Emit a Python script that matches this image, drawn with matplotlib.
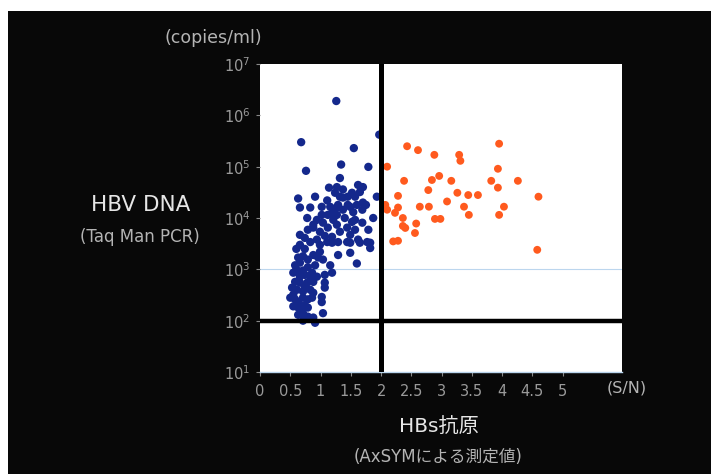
import matplotlib
matplotlib.use("Agg")
import matplotlib.pyplot as plt
from matplotlib.patches import Rectangle
from matplotlib.ticker import LogLocator, LogFormatterMathtext, NullLocator

# ---- data ----
blue_x = [1.26, 0.68, 1.55, 1.97, 0.76, 1.34, 1.79, 1.32, 1.14, 1.27,
          1.24, 1.62, 1.70, 1.52, 1.45, 1.37, 1.32, 1.65, 1.57, 0.63,
          0.91, 1.93, 0.66, 0.83, 1.02, 1.16, 1.29, 1.27, 1.19, 1.27,
          1.37, 1.49, 1.60, 1.70, 1.69, 1.54, 0.78, 0.94, 0.88, 1.04,
          1.12, 1.21, 1.27, 1.32, 1.44, 1.52, 1.57, 1.69, 1.57, 1.49,
          1.62, 1.79, 1.87, 0.66, 0.74, 0.83, 0.94, 0.99, 1.11, 1.19,
          1.29, 1.44, 1.77, 1.82, 0.66, 1.19, 1.49, 1.65, 0.71, 0.88,
          0.99, 1.29, 1.49, 1.60, 0.58, 0.66, 0.79, 0.91, 1.04, 1.16,
          0.55, 0.63, 0.74, 0.86, 0.94, 1.07, 1.19, 0.58, 0.66, 0.78,
          0.88, 1.07, 1.07, 0.61, 0.71, 0.83, 0.88, 0.50, 0.58, 0.63,
          0.71, 0.86, 1.02, 1.02, 0.55, 0.63, 0.69, 0.74, 0.79, 0.63,
          0.71, 0.79, 0.88, 1.04, 0.91, 1.82, 0.60, 0.74, 0.63, 0.79,
          0.60, 0.71, 0.83, 0.66, 0.53, 0.74, 0.55, 0.79, 0.88, 0.99,
          0.79, 1.07, 1.40, 1.45, 1.37, 1.75, 1.11, 1.02, 1.12, 0.71,
          0.96]
blue_y = [1.9e6, 3.0e5, 2.3e5, 4.2e5, 8.3e4, 1.1e5, 9.9e4, 6.0e4, 3.9e4, 4.0e4,
          3.1e4, 4.4e4, 4.0e4, 3.1e4, 2.6e4, 2.5e4, 2.6e4, 3.2e4, 2.6e4, 2.4e4,
          2.6e4, 2.6e4, 1.6e4, 1.6e4, 1.65e4, 1.65e4, 1.8e4, 1.6e4, 1.26e4, 1.15e4,
          1.45e4, 1.65e4, 1.8e4, 2.0e4, 1.45e4, 1.3e4, 1.0e4, 9.2e3, 7.4e3, 8.1e3,
          6.5e3, 9.2e3, 7.4e3, 5.4e3, 6.5e3, 8.4e3, 9.2e3, 8.1e3, 5.9e3, 4.7e3,
          3.8e3, 5.9e3, 1.0e4, 4.7e3, 4.1e3, 3.4e3, 3.8e3, 3.0e3, 3.4e3, 4.3e3,
          3.4e3, 3.4e3, 3.4e3, 2.6e3, 3.0e3, 3.3e3, 3.3e3, 3.3e3, 1.8e3, 1.9e3,
          2.2e3, 1.9e3, 2.1e3, 1.3e3, 1.2e3, 1.35e3, 1.1e3, 1.2e3, 1.55e3, 1.2e3,
          8.6e2, 8.9e2, 7.8e2, 8.6e2, 7.2e2, 7.8e2, 8.6e2, 5.7e2, 5.5e2, 5.5e2,
          5.7e2, 5.5e2, 4.4e2, 4.0e2, 3.7e2, 4.0e2, 3.5e2, 2.8e2, 2.6e2, 2.3e2,
          2.8e2, 2.8e2, 2.9e2, 2.3e2, 1.9e2, 1.8e2, 1.6e2, 2.0e2, 1.8e2, 1.3e2,
          1.4e2, 1.2e2, 1.15e2, 1.4e2, 9.1e1, 3.3e3, 2.5e3, 2.5e3, 1.7e3, 1.55e3,
          1.0e3, 9.5e2, 7.0e2, 7.2e2, 4.4e2, 4.6e2, 3.2e2, 2.6e2, 6.5e3, 5.4e3,
          5.9e3, 4.5e3, 1.0e4, 1.8e4, 3.6e4, 1.8e4, 2.2e4, 1.15e4, 1.15e4, 1.0e2,
          1.7e3]

orange_x = [2.10, 2.43, 2.61, 2.88, 3.29, 3.31, 3.95, 3.93, 2.38, 2.84,
            2.96, 3.16, 3.82, 4.26, 2.78, 3.93, 3.26, 3.44, 3.60, 2.28,
            3.09, 4.60, 2.07, 2.10, 2.23, 2.28, 2.64, 2.79, 3.37, 4.03,
            3.45, 3.95, 2.36, 2.89, 2.98, 2.36, 2.40, 2.58, 2.56, 2.20,
            2.28, 4.58]
orange_y = [1.0e5, 2.5e5, 2.1e5, 1.7e5, 1.7e5, 1.3e5, 2.8e5, 9.1e4, 5.3e4, 5.5e4,
            6.6e4, 5.3e4, 5.3e4, 5.3e4, 3.5e4, 3.9e4, 3.1e4, 2.8e4, 2.8e4, 2.7e4,
            2.1e4, 2.6e4, 1.8e4, 1.45e4, 1.26e4, 1.6e4, 1.66e4, 1.66e4, 1.66e4, 1.66e4,
            1.15e4, 1.15e4, 1.0e4, 9.6e3, 9.6e3, 7.0e3, 6.4e3, 7.8e3, 5.1e3, 3.5e3,
            3.6e3, 2.4e3]

x_ticks = [0, 0.5, 1, 1.5, 2, 2.5, 3, 3.5, 4, 4.5, 5]
x_tick_labels = ["0", "0.5", "1", "1.5", "2", "2.5", "3", "3.5", "4", "4.5", "5"]
cutoff_x = 2
cutoff_y = 1e2

FAM = ["DejaVu Sans", "Noto Sans CJK JP"]
plt.rcParams["font.family"] = FAM

fig = plt.figure(figsize=(7.11, 4.74), dpi=100, facecolor="white")
fig.patches.append(Rectangle((8 / 711, 0), 1, 1 - 11 / 474, transform=fig.transFigure,
                             facecolor="#080808", edgecolor="none", zorder=-5))

ax = fig.add_axes([260 / 711, 1 - 372 / 474, 362 / 711, 308 / 474])
ax.set_zorder(2)
ax.set_facecolor("white")
ax.set_yscale("log")
ax.set_xlim(0, 5.98)
ax.set_ylim(10, 1e7)

ax.axhline(1e3, color="#bcd6ee", lw=0.8, zorder=1)
ax.scatter(blue_x, blue_y, s=36, color="#14288c", edgecolors="none", zorder=3)
ax.scatter(orange_x, orange_y, s=32, color="#ff5a1e", edgecolors="none", zorder=3)
ax.axvline(cutoff_x, color="black", lw=3.6, zorder=4)
ax.axhline(cutoff_y, color="black", lw=3.2, zorder=4)

for s in ["top", "right", "left"]:
    ax.spines[s].set_visible(False)
ax.spines["bottom"].set_color("#b8d4ec")
ax.spines["bottom"].set_linewidth(1.0)

ax.set_xticks(x_ticks)
ax.set_xticklabels(x_tick_labels)
ax.yaxis.set_major_locator(LogLocator(base=10, numticks=10))
ax.yaxis.set_major_formatter(LogFormatterMathtext())
ax.yaxis.set_minor_locator(NullLocator())
ax.tick_params(axis="both", colors="#8a8a8a", labelcolor="#9a9a9a",
               labelsize=10.5, length=3, width=0.8, direction="out")
ax.tick_params(axis="x", pad=6)
ax.tick_params(axis="y", pad=4)

tc = "#b4b4b4"
fig.text(213 / 711, 1 - 38 / 474, "(copies/ml)", color=tc, fontsize=12.5,
         ha="center", va="center")
fig.text(141 / 711, 1 - 205 / 474, "HBV DNA", color="#e6e6e6", fontsize=15.5,
         ha="center", va="center")
fig.text(140 / 711, 1 - 237 / 474, "(Taq Man PCR)", color=tc, fontsize=12,
         ha="center", va="center")
fig.text(627 / 711, 1 - 388 / 474, "(S/N)", color=tc, fontsize=11.5,
         ha="center", va="center")
fig.text(439 / 711, 1 - 426 / 474, "HBs抗原", color="#e6e6e6", fontsize=14.5,
         ha="center", va="center")
fig.text(438 / 711, 1 - 457 / 474, "(AxSYMによる測定値)", color=tc, fontsize=12,
         ha="center", va="center")

fig.savefig("out.png", dpi=100, facecolor=fig.get_facecolor())
